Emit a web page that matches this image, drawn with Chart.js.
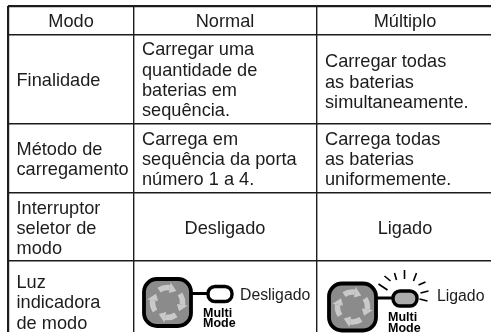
<!DOCTYPE html>
<html>
<head>
<meta charset="utf-8">
<style>
html, body { margin: 0; padding: 0; background: #fff; }
canvas { display: block; }
</style>
<script src="https://cdn.jsdelivr.net/npm/chart.js@4"></script>
</head>
<body>
<canvas id="modeTable" width="491" height="336"></canvas>
<script>
const headers = ['Modo', 'Normal', 'Múltiplo'];
const rowLabels = [
    ['Finalidade'],
    ['Método de', 'carregamento'],
    ['Interruptor', 'seletor de', 'modo'],
    ['Luz', 'indicadora', 'de modo']
];
const normalCells = [
    ['Carregar uma', 'quantidade de', 'baterias em', 'sequência.'],
    ['Carrega em', 'sequência da porta', 'número 1 a 4.'],
    ['Desligado']
];
const multipleCells = [
    ['Carregar todas', 'as baterias', 'simultaneamente.'],
    ['Carrega todas', 'as baterias', 'uniformemente.'],
    ['Ligado']
];
const lampLabels = ['Desligado', 'Ligado'];

const columnEdges = [8, 134, 317];
const rowEdges = [6, 34.5, 124, 193, 261];
const columnCentres = [71, 225, 405];
const columnLefts = [16.5, 142, 325];
const rowCentres = [21.5, 80.8, 160, 229, 303.2];

const ink = '#1c1c1c';
const font = '18.2px "Liberation Sans", Arial, sans-serif';
const lineHeight = 20.4;

const textPoints = [];
headers.forEach((h, i) => textPoints.push({ x: columnCentres[i], y: rowCentres[0], lines: [h], align: 'center' }));
rowLabels.forEach((lines, i) => textPoints.push({ x: columnLefts[0], y: rowCentres[i + 1], lines, align: 'left' }));
normalCells.forEach((lines, i) => textPoints.push({
    x: lines.length > 1 ? columnLefts[1] : columnCentres[1], y: rowCentres[i + 1], lines, align: lines.length > 1 ? 'left' : 'center'
}));
multipleCells.forEach((lines, i) => textPoints.push({
    x: lines.length > 1 ? columnLefts[2] : columnCentres[2], y: rowCentres[i + 1] + (i === 0 ? 2 : 0), lines, align: lines.length > 1 ? 'left' : 'center'
}));

const lampPoints = [
    { x: 167.5, y: 302.5, lit: false, label: lampLabels[0] },
    { x: 352.5, y: 307, lit: true, label: lampLabels[1] }
];

function roundBox(ctx, x, y, w, h, r) {
    ctx.beginPath();
    ctx.roundRect(x, y, w, h, r);
}

function polar(ctx, r, a, first) {
    if (first) ctx.moveTo(r * Math.cos(a), r * Math.sin(a));
    else ctx.lineTo(r * Math.cos(a), r * Math.sin(a));
}

function drawLamp(ctx, cx, cy, lit, label) {
    ctx.save();
    ctx.translate(cx, cy);
    // button
    ctx.fillStyle = '#8b8b8b';
    ctx.strokeStyle = '#000';
    ctx.lineWidth = 3.8;
    roundBox(ctx, -23.5, -23.5, 47, 47, 13);
    ctx.fill();
    ctx.stroke();
    // four arrows round the button
    ctx.strokeStyle = '#c9c9c9';
    ctx.fillStyle = '#c9c9c9';
    for (let i = 0; i < 4; i++) {
        ctx.save();
        ctx.rotate(i * Math.PI / 2);
        ctx.lineWidth = 5.5;
        ctx.beginPath();
        ctx.arc(0, 0, 15, -0.6, 0.15);
        ctx.stroke();
        ctx.beginPath();
        polar(ctx, 9.5, 0.15, true);
        polar(ctx, 20.5, 0.15);
        polar(ctx, 14.5, 0.65);
        ctx.closePath();
        ctx.fill();
        ctx.restore();
    }
    // connector and lamp
    ctx.strokeStyle = '#000';
    ctx.lineWidth = 3;
    ctx.beginPath();
    ctx.moveTo(24, -9);
    ctx.lineTo(41, -9);
    ctx.stroke();
    ctx.lineWidth = 3.4;
    ctx.fillStyle = lit ? '#ababab' : '#fff';
    roundBox(ctx, 40.5, -16, 24, 15, 7);
    ctx.fill();
    ctx.stroke();
    if (lit) {
        const rays = [[-1, -23, 8, -17], [5, -31, 11, -26], [15, -34, 17, -27], [25, -37, 25, -28],
            [37, -34, 34, -26], [46, -25, 39, -22], [49, -16, 41, -14], [48, -6, 40, -8]];
        ctx.lineWidth = 1.6;
        ctx.beginPath();
        rays.forEach(r => {
            ctx.moveTo(27 + r[0], r[1]);
            ctx.lineTo(27 + r[2], r[3]);
        });
        ctx.stroke();
    }
    ctx.fillStyle = '#000';
    ctx.textAlign = 'left';
    ctx.textBaseline = 'alphabetic';
    ctx.font = 'bold 12.5px "Liberation Sans", Arial, sans-serif';
    ctx.fillText('Multi', 35.5, 14);
    ctx.fillText('Mode', 35.5, 24.5);
    ctx.fillStyle = ink;
    ctx.font = '15.8px "Liberation Sans", Arial, sans-serif';
    ctx.textBaseline = 'middle';
    ctx.fillText(label, lit ? 84.5 : 72.5, lit ? -10 : -6.8);
    ctx.restore();
}

const tableText = {
    id: 'tableText',
    afterDatasetsDraw(chart) {
        const { ctx, scales: { x, y } } = chart;
        ctx.save();
        ctx.fillStyle = ink;
        ctx.font = font;
        ctx.textBaseline = 'middle';
        chart.data.datasets[0].data.forEach(p => {
            ctx.textAlign = p.align;
            const top = y.getPixelForValue(p.y) - (p.lines.length - 1) * lineHeight / 2;
            p.lines.forEach((line, i) => ctx.fillText(line, x.getPixelForValue(p.x), top + i * lineHeight));
        });
        chart.data.datasets[1].data.forEach(p => {
            drawLamp(ctx, x.getPixelForValue(p.x), y.getPixelForValue(p.y), p.lit, p.label);
        });
        ctx.restore();
    }
};

new Chart(document.getElementById('modeTable').getContext('2d'), {
    type: 'scatter',
    data: {
        datasets: [
            { label: 'Texto', data: textPoints, pointRadius: 0 },
            { label: 'Luz', data: lampPoints, pointRadius: 0 }
        ]
    },
    options: {
        responsive: false,
        animation: false,
        layout: { padding: { left: 8, top: 6, bottom: 4 } },
        plugins: {
            legend: { display: false },
            tooltip: { enabled: false }
        },
        scales: {
            x: {
                min: 8,
                max: 491,
                afterBuildTicks: axis => { axis.ticks = columnEdges.map(value => ({ value })); },
                ticks: { display: false },
                border: { display: false },
                grid: {
                    drawTicks: false,
                    color: ink,
                    lineWidth: c => c.tick && c.tick.value === columnEdges[0] ? 2.2 : 1.4
                }
            },
            y: {
                reverse: true,
                min: 6,
                max: 332,
                afterBuildTicks: axis => { axis.ticks = rowEdges.map(value => ({ value })); },
                ticks: { display: false },
                border: { display: false },
                grid: {
                    drawTicks: false,
                    color: ink,
                    lineWidth: c => c.tick && c.tick.value === rowEdges[0] ? 2.2 : 1.4
                }
            }
        }
    },
    plugins: [tableText]
});
</script>
</body>
</html>
